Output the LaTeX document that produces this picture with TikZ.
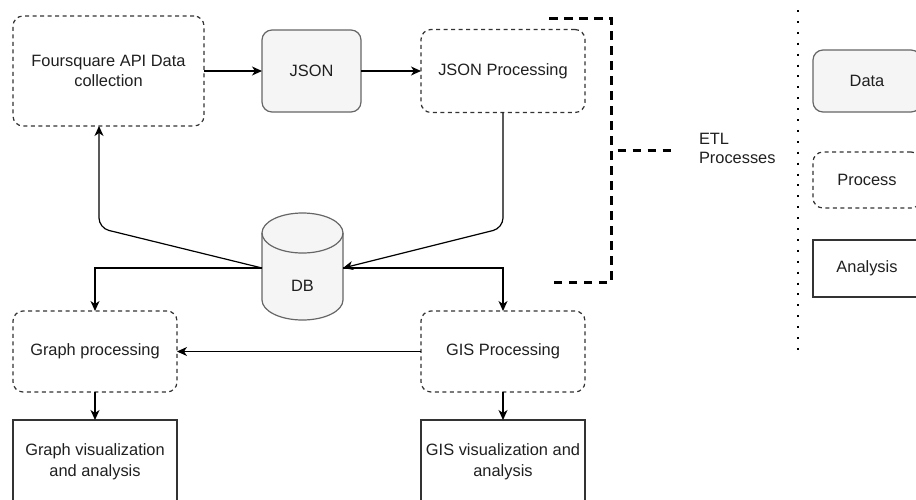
\documentclass[tikz,border=0pt]{standalone}
\usepackage{fontspec}
\setmainfont{Liberation Sans}
\usetikzlibrary{arrows.meta}
\definecolor{txt}{HTML}{1F1F1F}
\definecolor{edge}{HTML}{333333}
\definecolor{datafill}{HTML}{F5F5F5}
\definecolor{dataedge}{HTML}{666666}
\tikzset{
  base/.style={inner sep=0pt, outer sep=0pt, align=center, text=txt,
    font=\fontsize{16.4}{20.5}\selectfont},
  procbox/.style={base, draw=edge, line width=1.2pt, dash pattern=on 4pt off 3.5pt,
    rounded corners=10pt},
  databox/.style={base, draw=dataedge, fill=datafill, line width=1.2pt, rounded corners=10pt},
  anabox/.style={base, draw=edge, line width=1.3pt},
  arr/.style={draw=black, line width=1.2pt, -{Stealth[length=10pt,width=9pt,inset=3pt]}},
  etlline/.style={draw=black, line width=3pt, dash pattern=on 8.5pt off 6.5pt},
}
\begin{document}
\begin{tikzpicture}[x=1pt,y=-1pt]
\useasboundingbox (0,0) rectangle (916,499);
\clip (0,0) rectangle (916,499);
% main nodes
\node[procbox, minimum width=191, minimum height=110] (fs) at (108.5,71) {Foursquare API Data\\collection};
\node[databox, minimum width=99, minimum height=82] (json) at (311.5,71) {JSON};
\node[procbox, minimum width=164, minimum height=83] (jp) at (503,71) {JSON Processing};
\node[procbox, minimum width=164, minimum height=81] (gp) at (95,351.5) {Graph processing};
\node[procbox, minimum width=164, minimum height=81] (gis) at (503,351.5) {GIS Processing};
\node[anabox, minimum width=164, minimum height=84] (gv) at (95,462) {Graph visualization\\and analysis};
\node[anabox, minimum width=164, minimum height=84] (gisv) at (503,462) {GIS visualization and\\analysis};
% DB cylinder
\fill[datafill] (262,233) -- (262,300) .. controls (262,311) and (280.1,320) .. (302.5,320)
  .. controls (324.9,320) and (343,311) .. (343,300) -- (343,233) -- cycle;
\fill[datafill] (302.5,233) ellipse [x radius=40.5, y radius=20];
\draw[dataedge, line width=1.2pt] (262,233) -- (262,300) .. controls (262,311) and (280.1,320) .. (302.5,320)
  .. controls (324.9,320) and (343,311) .. (343,300) -- (343,233);
\draw[dataedge, line width=1.2pt] (302.5,233) ellipse [x radius=40.5, y radius=20];
\node[base, minimum width=81, minimum height=104] (db) at (302.5,268) {};
\node[base] (dblabel) at (302.5,286) {DB};
% connectors
\coordinate (wl) at (99,228);
\coordinate (wr) at (503,228);
\draw[arr] (fs.east) -- (json.west);
\draw[arr] (json.east) -- (json.east -| jp.west);
\draw[arr, rounded corners=10pt] (jp.south) -- (wr) -- (db.east);
\draw[arr, rounded corners=10pt] (db.west) -- (wl) -- (wl |- fs.south);
\draw[arr] (db.west) -| (gp.north);
\draw[arr] (db.east) -| (gis.north);
\draw[arr] (gis.west) -- (gp.east);
\draw[arr] (gp.south) -- (gv.north);
\draw[arr] (gis.south) -- (gisv.north);
% ETL bracket
\node[base, anchor=west, align=left, font=\fontsize{16.4}{19.5}\selectfont] (etl) at (699,148.5) {ETL\\Processes};
\coordinate (b1) at (549,18);
\coordinate (b2) at (611,18);
\coordinate (b3) at (611,282);
\coordinate (b4) at (549,282);
\coordinate (tk) at (611,150);
\coordinate (tkend) at (677,150);
\draw[etlline] (b1) -- (b2) -- (b3) -- (b4);
\draw[etlline, dash phase=8.5pt] (tk) -- (tkend);
% dotted separator
\coordinate (s1) at (798,10);
\coordinate (s2) at (798,351);
\draw[black, line width=2pt, dash pattern=on 2pt off 8.9pt] (s1) -- (s2);
% legend
\node[databox, minimum width=108, minimum height=62] (ldata) at (867,81) {Data};
\node[procbox, minimum width=108, minimum height=56] (lproc) at (867,180) {Process};
\node[anabox, minimum width=108, minimum height=57] (lana) at (867,268.5) {Analysis};
\end{tikzpicture}
\end{document}
